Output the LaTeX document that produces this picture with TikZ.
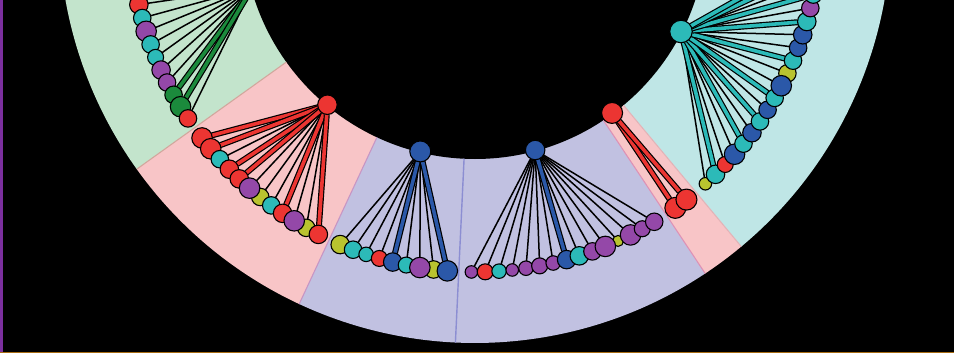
\documentclass[tikz,border=0pt]{standalone}
\definecolor{cRed}{HTML}{EC3532}
\definecolor{cCyan}{HTML}{2CBAB8}
\definecolor{cPurple}{HTML}{9448A8}
\definecolor{cBlue}{HTML}{2B58A8}
\definecolor{cGreen}{HTML}{1B8A3C}
\definecolor{cYellow}{HTML}{B9C32F}
\definecolor{sGreen}{HTML}{C3E4CC}
\definecolor{sPink}{HTML}{F8C5C7}
\definecolor{sLav}{HTML}{C1C1E1}
\definecolor{sCyan}{HTML}{BFE6E6}
\definecolor{lnGP}{HTML}{D2A89E}
\definecolor{lnPB}{HTML}{C896C4}
\definecolor{lnBB}{HTML}{8C8ED2}
\definecolor{lnBP}{HTML}{DE92B6}
\definecolor{lnPC}{HTML}{E4B4B8}
\definecolor{framePurple}{HTML}{7B2F9E}
\definecolor{frameGold}{HTML}{A86C12}
\pgfdeclarelayer{back}
\pgfdeclarelayer{links}
\pgfsetlayers{back,links,main}
\begin{document}
\begin{tikzpicture}[x=1pt,y=1pt,
  leaf/.style={circle,draw=black,line width=1.1pt,fill=#1,inner sep=0pt,outer sep=0pt},
  tiny/.style={minimum size=11pt},
  xs/.style={minimum size=12.5pt},
  sx/.style={minimum size=14.5pt},
  sm/.style={minimum size=16pt},
  md/.style={minimum size=17.5pt},
  ml/.style={minimum size=18.5pt},
  lg/.style={minimum size=20.5pt},
  hub/.style={circle,draw=black,line width=1.1pt,fill=#1,inner sep=0pt,outer sep=0pt,minimum size=20pt},
  link/.style={draw=black,line width=1.5pt},
  boldlink/.style={draw=black,line width=1.2pt,double=#1,double distance=3.6pt},
  sepline/.style={draw=#1,line width=1.1pt}]
\useasboundingbox (0,-353) rectangle (954,0);
\begin{pgfonlayer}{back}
  \fill[black] (0,-353) rectangle (954,0);
  \begin{scope}[shift={(475,73)}]
    \fill[sGreen] (0,0) -- (150:416) arc[start angle=150,end angle=215.6,radius=416] -- cycle;
    \fill[sPink] (0,0) -- (215.6:416) arc[start angle=215.6,end angle=245.0,radius=416] -- cycle;
    \fill[sLav] (0,0) -- (245.0:416) arc[start angle=245.0,end angle=303.6,radius=416] -- cycle;
    \fill[sPink] (0,0) -- (303.6:416) arc[start angle=303.6,end angle=309.8,radius=416] -- cycle;
    \fill[sCyan] (0,0) -- (309.8:416) arc[start angle=309.8,end angle=390,radius=416] -- cycle;
    \fill[black] (0,0) circle[radius=232];
    \draw[sepline=lnGP] (215.6:232) -- (215.6:416);
    \draw[sepline=lnPB] (245.0:232) -- (245.0:416);
    \draw[sepline=lnBB,line width=1.4pt] (267.3:232) -- (267.3:416);
    \draw[sepline=lnBP] (303.6:232) -- (303.6:416);
    \draw[sepline=lnPC] (309.8:232) -- (309.8:416);
  \end{scope}
\end{pgfonlayer}
\begin{scope}[shift={(475,73)}]
  % hubs
  \node[hub=cGreen] (hG) at (195.3:231) {};
  \node[hub=cRed,minimum size=19.5pt] (hR1) at (230.3:231) {};
  \node[hub=cBlue,minimum size=21pt] (hB1) at (256.3:231) {};
  \node[hub=cBlue,minimum size=19.5pt] (hB2) at (285.1:231) {};
  \node[hub=cRed,minimum size=21pt] (hR2) at (306.4:231) {};
  \node[hub=cCyan,minimum size=22.5pt] (hC) at (333.1:231) {};
  % green fan
  \node[leaf=cRed,ml] (g1) at (193.0:345) {};
  \node[leaf=cCyan,md] (g2) at (195.3:345) {};
  \node[leaf=cPurple,lg] (g3) at (197.6:345) {};
  \node[leaf=cCyan,md] (g4) at (199.9:345) {};
  \node[leaf=cCyan,sm] (g5) at (202.2:345) {};
  \node[leaf=cPurple,ml] (g6) at (204.5:345) {};
  \node[leaf=cPurple,md] (g7) at (206.8:345) {};
  \node[leaf=cGreen,md] (g8) at (209.1:345) {};
  \node[leaf=cGreen,lg] (g9) at (211.4:345) {};
  \node[leaf=cRed,md] (g10) at (213.7:345) {};
  % red fan 1
  \node[leaf=cYellow,md] (r7) at (231.5:345) {};
  \node[leaf=cYellow,md] (r11) at (240.7:345) {};
  \node[leaf=cRed,lg] (r1) at (217.7:345) {};
  \node[leaf=cRed,lg] (r2) at (220.0:345) {};
  \node[leaf=cCyan,md] (r3) at (222.3:345) {};
  \node[leaf=cRed,ml] (r4) at (224.6:345) {};
  \node[leaf=cRed,ml] (r5) at (226.9:345) {};
  \node[leaf=cPurple,lg] (r6) at (229.2:345) {};
  \node[leaf=cCyan,md] (r8) at (233.8:345) {};
  \node[leaf=cRed,ml] (r9) at (236.1:345) {};
  \node[leaf=cPurple,lg] (r10) at (238.4:345) {};
  \node[leaf=cRed,ml] (r12) at (243.0:345) {};
  % blue fan 1
  \node[leaf=cYellow,md] (b8) at (263.1:345) {};
  \node[leaf=cYellow,ml] (b1) at (247.0:345) {};
  \node[leaf=cCyan,md] (b2) at (249.3:345) {};
  \node[leaf=cCyan,sx] (b3) at (251.6:345) {};
  \node[leaf=cRed,sm] (b4) at (253.9:345) {};
  \node[leaf=cBlue,ml] (b5) at (256.2:345) {};
  \node[leaf=cCyan,sm] (b6) at (258.5:345) {};
  \node[leaf=cPurple,lg] (b7) at (260.8:345) {};
  \node[leaf=cBlue,lg] (b9) at (265.4:345) {};
  % blue fan 2
  \node[leaf=cYellow,tiny] (p11) at (294.5:345) {};
  \node[leaf=cPurple,xs] (p0) at (269.4:345) {};
  \node[leaf=cRed,sm] (p1) at (271.7:345) {};
  \node[leaf=cCyan,sx] (p2) at (274.0:345) {};
  \node[leaf=cPurple,xs] (p3) at (276.2:345) {};
  \node[leaf=cPurple,sx] (p4) at (278.5:345) {};
  \node[leaf=cPurple,sm] (p5) at (280.8:345) {};
  \node[leaf=cPurple,sx] (p6) at (283.1:345) {};
  \node[leaf=cBlue,ml] (p7) at (285.4:345) {};
  \node[leaf=cCyan,ml] (p8) at (287.6:345) {};
  \node[leaf=cPurple,md] (p9) at (289.9:345) {};
  \node[leaf=cPurple,lg] (p10) at (292.2:345) {};
  \node[leaf=cPurple,lg] (p12) at (296.8:345) {};
  \node[leaf=cPurple,sm] (p13) at (299.0:345) {};
  \node[leaf=cPurple,md] (p14) at (301.3:345) {};
  % red fan 2
  \node[leaf=cRed,minimum size=21pt] (q1) at (305.5:345) {};
  \node[leaf=cRed,minimum size=21pt] (q2) at (307.8:345) {};
  % cyan fan
  \node[leaf=cYellow,xs] (k0) at (311.9:345) {};
  \node[leaf=cYellow,md] (k10) at (334.9:345) {};
  \node[leaf=cCyan,ml] (k1) at (314.2:345) {};
  \node[leaf=cRed,sm] (k2) at (316.5:345) {};
  \node[leaf=cBlue,lg] (k3) at (318.8:345) {};
  \node[leaf=cCyan,md] (k4) at (321.1:345) {};
  \node[leaf=cBlue,ml] (k5) at (323.4:345) {};
  \node[leaf=cCyan,md] (k6) at (325.7:345) {};
  \node[leaf=cBlue,md] (k7) at (328.0:345) {};
  \node[leaf=cCyan,md] (k8) at (330.3:345) {};
  \node[leaf=cBlue,lg] (k9) at (332.6:345) {};
  \node[leaf=cCyan,md] (k11) at (337.2:345) {};
  \node[leaf=cBlue,md] (k12) at (339.5:345) {};
  \node[leaf=cBlue,ml] (k13) at (341.8:345) {};
  \node[leaf=cCyan,ml] (k14) at (344.1:345) {};
  \node[leaf=cPurple,md] (k15) at (346.4:345) {};
  \node[leaf=cCyan,md] (k16) at (348.7:345) {};
  \node[leaf=cBlue,md] (k17) at (351.0:345) {};
  \node[leaf=cCyan,md] (k18) at (353.3:345) {};
  \node[leaf=cCyan,md] (k19) at (355.6:345) {};
\end{scope}
\begin{pgfonlayer}{links}
  \foreach \n in {g1,g2,g3,g4,g5,g6,g7,g10} \draw[link] (hG) -- (\n);
  \foreach \n in {g8,g9} \draw[boldlink=cGreen] (hG) -- (\n);
  \foreach \n in {r3,r6,r7,r8,r10,r11} \draw[link] (hR1) -- (\n);
  \foreach \n in {r1,r2,r4,r5,r9,r12} \draw[boldlink=cRed] (hR1) -- (\n);
  \foreach \n in {b1,b2,b3,b4,b6,b7,b8} \draw[link] (hB1) -- (\n);
  \foreach \n in {b5,b9} \draw[boldlink=cBlue] (hB1) -- (\n);
  \foreach \n in {p0,p1,p2,p3,p4,p5,p6,p8,p9,p10,p11,p12,p13,p14} \draw[link] (hB2) -- (\n);
  \foreach \n in {p7} \draw[boldlink=cBlue] (hB2) -- (\n);
  \foreach \n in {q1,q2} \draw[boldlink=cRed] (hR2) -- (\n);
  \foreach \n in {k0,k2,k3,k5,k7,k9,k10,k12,k13,k15,k17} \draw[link] (hC) -- (\n);
  \foreach \n in {k1,k4,k6,k8,k11,k14,k16,k18,k19} \draw[boldlink=cCyan] (hC) -- (\n);
\end{pgfonlayer}
\fill[framePurple] (0,-351.7) rectangle (3,0);
\fill[frameGold] (0,-353) rectangle (954,-351.7);
\end{tikzpicture}
\end{document}
